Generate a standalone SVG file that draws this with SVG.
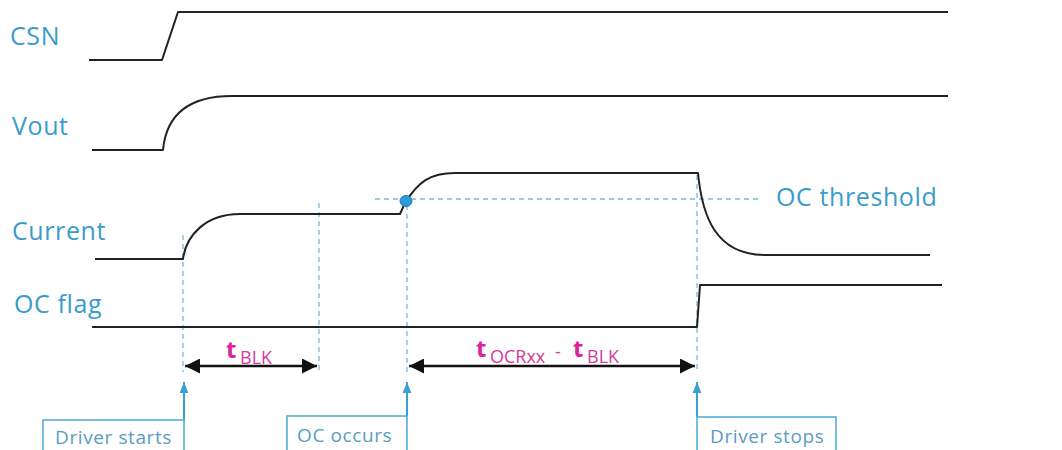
<svg xmlns="http://www.w3.org/2000/svg" width="1062" height="450" viewBox="0 0 1062 450">
  <defs>
    <style>
      .sig { fill: none; stroke: #222; stroke-width: 2; stroke-linejoin: round; }
      .lbl { font-family: "Open Sans", "Noto Sans", sans-serif; font-size: 25px; fill: #3a9ccb; letter-spacing: 0.6px; }
      .guide { fill: none; stroke: #7fb5d8; stroke-width: 1.3; stroke-dasharray: 5 4; }
      .dim { fill: none; stroke: #111; stroke-width: 2.5; }
      .t { font-family: "Open Sans", "Noto Sans", sans-serif; font-size: 24px; font-weight: bold; fill: #e0209a; }
      .sub { font-family: "Open Sans", "Noto Sans", sans-serif; font-size: 18px; fill: #d43c9c; }
      .box { fill: #fff; stroke: #4aa8d6; stroke-width: 1.5; }
      .callout { fill: none; stroke: #3aa0d4; stroke-width: 2; }
      .ctext { font-family: "Open Sans", "Noto Sans", sans-serif; font-size: 19px; fill: #5a9cc4; letter-spacing: 0.6px; }
    </style>
    <marker id="dimHead" viewBox="0 0 10 10" refX="10" refY="5" markerWidth="6.4" markerHeight="6" markerUnits="strokeWidth" orient="auto-start-reverse">
      <path d="M0,0 L10,5 L0,10 z" fill="#111"/>
    </marker>
    <marker id="upHead" viewBox="0 0 10 10" refX="10" refY="5" markerWidth="5.5" markerHeight="5.5" markerUnits="strokeWidth" orient="auto">
      <path d="M0,1 L10,5 L0,9 z" fill="#3aa0d4"/>
    </marker>
  </defs>

  <rect width="1062" height="450" fill="#fff"/>

  <!-- signal names -->
  <g id="labels">
    <text class="lbl" x="10" y="45">CSN</text>
    <text class="lbl" x="12" y="135">Vout</text>
    <text class="lbl" x="12" y="240">Current</text>
    <text class="lbl" x="14" y="313">OC flag</text>
  </g>

  <!-- guide lines -->
  <g id="guides">
    <line class="guide" x1="375" y1="199" x2="762" y2="199"/>
    <line class="guide" x1="183" y1="235" x2="183" y2="372"/>
    <line class="guide" x1="319" y1="203" x2="319" y2="370"/>
    <line class="guide" x1="407" y1="205" x2="407" y2="372"/>
    <line class="guide" x1="697" y1="175" x2="697" y2="372"/>
  </g>

  <!-- waveforms -->
  <g id="csn"><path class="sig" d="M89,60 L162,60 L178,12 L948,12"/></g>
  <g id="vout"><path class="sig" d="M92,150 L163,150 C166,118 185,96 232,96 L948,96"/></g>
  <g id="current">
    <path class="sig" d="M95,259 L183,259 C186,236 205,214 240,214 L400,214 L405,203 C418,182 430,173 455,173 L698,173 C702,215 715,255 765,255 L930,255"/>
    <ellipse cx="406" cy="201" rx="6" ry="5.5" fill="#2e9ad6" stroke="#1f7fb8" stroke-width="1"/>
  </g>
  <g id="ocflag"><path class="sig" d="M92,327 L697,327 L700,285 L942,285"/></g>

  <g id="threshold-label">
    <text class="lbl" x="776" y="206" letter-spacing="1">OC threshold</text>
  </g>

  <!-- timing dimensions -->
  <g id="connectors">
    <line class="dim" x1="185" y1="366" x2="317" y2="366" marker-start="url(#dimHead)" marker-end="url(#dimHead)"/>
    <line class="dim" x1="409" y1="366" x2="695" y2="366" marker-start="url(#dimHead)" marker-end="url(#dimHead)"/>
    <line class="callout" x1="184" y1="420" x2="184" y2="382" marker-end="url(#upHead)"/>
    <line class="callout" x1="407" y1="416" x2="407" y2="382" marker-end="url(#upHead)"/>
    <line class="callout" x1="697" y1="417" x2="697" y2="382" marker-end="url(#upHead)"/>
  </g>

  <g id="tblk">
    <text class="t" x="226" y="358">t</text>
    <text class="sub" x="240" y="364">BLK</text>
  </g>
  <g id="tocr">
    <text class="t" x="476" y="357">t</text>
    <text class="sub" x="490" y="363">OCRxx</text>
    <text class="sub" x="555" y="358">-</text>
    <text class="t" x="573" y="357">t</text>
    <text class="sub" x="587" y="363">BLK</text>
  </g>

  <!-- event callouts -->
  <g id="driver-starts">
    <path class="box" d="M43,452 L43,420 L184,420 L184,452"/>
    <text class="ctext" x="55" y="444">Driver starts</text>
  </g>
  <g id="oc-occurs">
    <path class="box" d="M287,452 L287,416 L407,416 L407,452"/>
    <text class="ctext" x="297" y="442">OC occurs</text>
  </g>
  <g id="driver-stops">
    <path class="box" d="M697,452 L697,417 L836,417 L836,452"/>
    <text class="ctext" x="710" y="443">Driver stops</text>
  </g>
</svg>
